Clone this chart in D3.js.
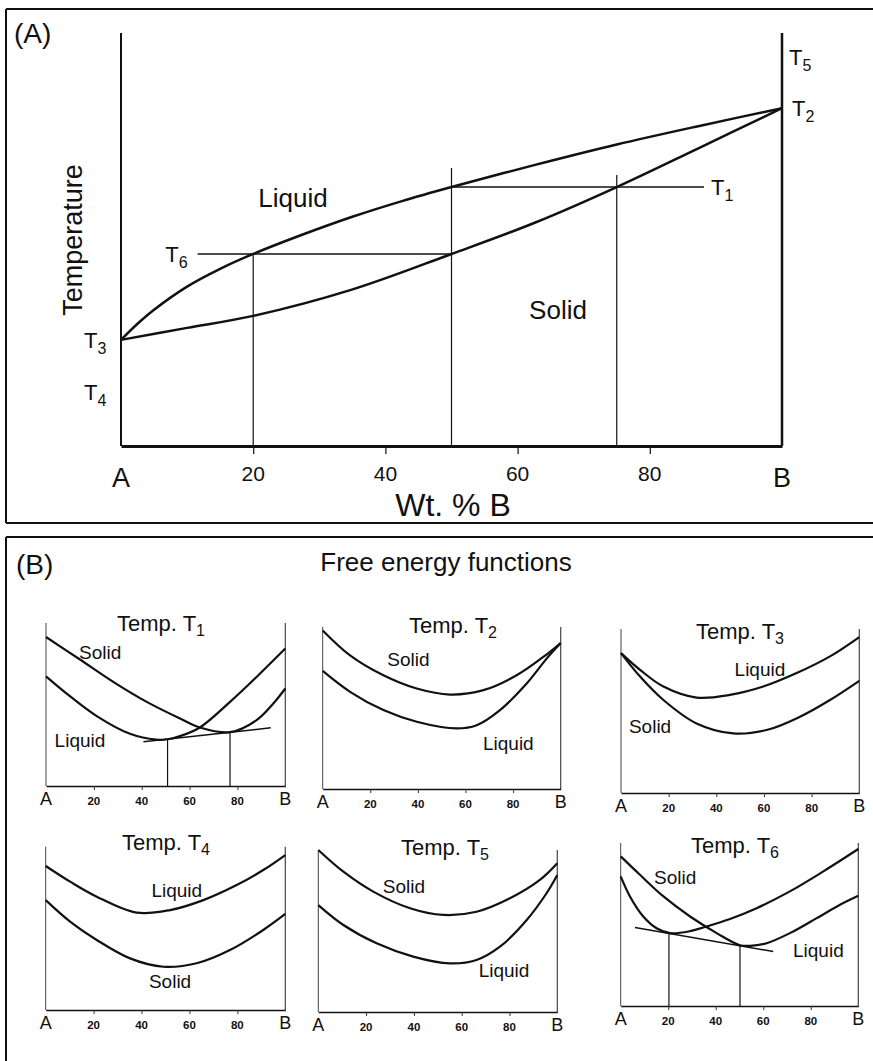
<!DOCTYPE html>
<html><head><meta charset="utf-8">
<script src="https://cdn.jsdelivr.net/npm/d3@7"></script>
<style>
body{margin:0;background:#fff}
svg{display:block}
text{font-family:"Liberation Sans",Arial,Helvetica,sans-serif;fill:#111}
</style>
</head><body>
<svg id="c" width="873" height="1061"></svg>
<script>
// ---------- DATA ----------
const compTicks = [0, 20, 40, 60, 80, 100];
const compLabels = ["A", "20", "40", "60", "80", "B"];

// Panel A: phase diagram (composition wt% B, temperature in arbitrary units 0-100)
const liquidus = [[0,25.7],[2.5,29.6],[5,33.0],[10,38.6],[15,42.9],[20,46.5],[27.5,51.2],[35,55.5],[42.5,59.3],[50,62.7],[62.5,68.0],[75,73.0],[87.5,77.5],[100,81.8]];
const solidus  = [[0,25.7],[10,28.6],[20,31.5],[34.8,37.8],[50,46.5],[62.5,54.0],[75,62.7],[87.5,72.2],[100,81.8]];
const tempNames  = ["5","2","1","6","3","4"];
const tempValues = [94.2, 81.8, 62.7, 46.5, 25.7, 13.1];
const tieT1 = [[50,62.7],[88.2,62.7]];
const tieT6 = [[11.6,46.5],[50,46.5]];
const dropComps = [20, 50, 75];
const dropTops  = [46.5, 67.3, 65.6];

// Panel B: free energy curves (composition %, G arbitrary 0-100)
const t1Solid  = [[0,91.4],[14.2,77.6],[28.1,63.9],[42.1,51.6],[56,41.4],[64.3,35.9],[76.9,33.0],[88,40.4],[95,50.6],[100,59.8]];
const t1Liquid = [[0,67.3],[10,55.1],[21.2,42.9],[35.1,32.0],[46,28.4],[50.8,28.7],[56,30.6],[64.3,35.9],[76.9,51.6],[88,66.9],[100,84.3]];
const t1Tangent = [[40.7,27.1],[93.9,35.7]];
const t1Drops = [[50.8,28.6],[76.9,32.9]];

const t2Solid  = [[0,97.9],[11.5,82.5],[25.5,70.2],[39.5,62.0],[53.5,58.3],[67.5,61.0],[81.5,70.2],[92.7,81.5],[100,90.1]];
const t2Liquid = [[0,72.9],[11.5,60.0],[25.5,48.7],[39.5,41.5],[56.3,37.4],[64.7,39.4],[74.5,48.7],[85.7,65.1],[94.1,80.5],[100,90.1]];

const t3Liquid = [[0,85.3],[8,75.1],[17.8,64.9],[31.7,58.2],[45.7,59.8],[59.7,64.9],[73.7,73.1],[87.7,83.3],[100,95.1]];
const t3Solid  = [[0,85.3],[8,71.0],[17.8,56.7],[31.7,42.4],[47.1,36.3],[61.1,38.4],[75.1,46.5],[87.7,56.7],[100,68.4]];

const t4Liquid = [[0,88.2],[10.2,78.6],[21.3,69.4],[38,59.6],[51.9,61.2],[65.8,67.3],[79.7,76.5],[90.8,85.7],[100,94.9]];
const t4Solid  = [[0,67.3],[10.2,54.1],[21.3,42.9],[35.2,31.6],[49.1,26.5],[63,28.6],[76.9,36.7],[90.8,49.0],[100,58.8]];

const t5Solid  = [[0,100],[10.5,86.6],[23,74.3],[38.4,64.0],[52.3,59.9],[66.2,61.9],[80.2,70.2],[92.7,81.5],[100,91.8]];
const t5Liquid = [[0,66.0],[10.5,53.7],[24.4,42.4],[39.7,34.2],[55.1,30.0],[66.2,32.1],[76,40.3],[87.2,56.8],[95.5,73.3],[100,84.6]];

const t6Solid  = [[0,91.8],[8.1,80.5],[18,67.2],[29.2,54.9],[40.4,44.7],[50.2,37.3],[54.4,36.9],[61.4,38.5],[71.2,44.7],[82.5,53.9],[92.3,62.1],[100,67.6]];
const t6Liquid = [[0,79.5],[3.9,67.2],[9.5,54.9],[15.1,47.7],[20.8,44.7],[29.2,45.9],[34.8,48.2],[46,53.4],[57.2,60.0],[71.2,70.3],[85.3,82.6],[100,96.3]];
const t6Tangent = [[6.0,48.2],[64.2,33.4]];
const t6Drops = [[20.3,44.6],[50.2,37.0]];

// label anchors in data units [x%, G]
const t1Labels = [["Solid",22.6,82],["Liquid",14.2,28]];
const t2Labels = [["Solid",36,80],["Liquid",78,28]];
const t3Labels = [["Liquid",58.3,75.1],["Solid",12.2,40.8]];
const t4Labels = [["Liquid",54.7,73],["Solid",51.9,17.3]];
const t5Labels = [["Solid",35.8,77.4],["Liquid",77.7,25.5]];
const t6Labels = [["Solid",22.9,79.1],["Liquid",83.2,34.4]];

// ---------- DRAW ----------
const svg = d3.select("#c");
const ink = "#111";

function ln(x1,y1,x2,y2,w,c){
  svg.append("line").attr("x1",x1).attr("y1",y1).attr("x2",x2).attr("y2",y2)
    .attr("stroke",c||ink).attr("stroke-width",w);
}
// frames
ln(6,9,873,9,2); ln(6,9,6,523,2); ln(6,523,873,523,2);
ln(6,537,873,537,2); ln(6,537,6,1061,2);

function tLabel(g,x,y,anchor,main,sub,fs,sfs,dy){
  const t = g.append("text").attr("x",x).attr("y",y).attr("text-anchor",anchor).style("font-size",fs+"px");
  t.append("tspan").text(main);
  t.append("tspan").attr("dy",dy).style("font-size",sfs+"px").text(sub);
  return t;
}

// ----- Panel A -----
const gA = svg.append("g");
gA.append("text").attr("x",14).attr("y",43).style("font-size","28px").text("(A)");
const x = d3.scaleLinear().domain([0,100]).range([121,782]);
const y = d3.scaleLinear().domain([0,100]).range([446,33]);

gA.append("line").attr("x1",x(0)).attr("x2",x(0)).attr("y1",y(100)).attr("y2",y(0)).attr("stroke",ink).attr("stroke-width",2);
gA.append("line").attr("x1",x(100)).attr("x2",x(100)).attr("y1",y(100)).attr("y2",y(0)).attr("stroke",ink).attr("stroke-width",2.5);

const axA = gA.append("g").attr("transform",`translate(0,${y(0)})`)
  .call(d3.axisBottom(x).tickValues(compTicks.slice(1,-1)).tickSizeInner(8).tickSizeOuter(0).tickFormat(""));
axA.select(".domain").attr("stroke",ink).attr("stroke-width",3);
axA.selectAll(".tick line").attr("stroke",ink).attr("stroke-width",1.2);

gA.selectAll("text.xl").data(compTicks).enter().append("text").attr("class","xl")
  .attr("x",d=>x(d)).attr("y",(d,i)=> (i===0||i===5)?487:481)
  .attr("text-anchor","middle")
  .style("font-size",(d,i)=> (i===0||i===5)?"27px":"21px")
  .text((d,i)=>compLabels[i]);
gA.append("text").attr("x",453).attr("y",516).attr("text-anchor","middle").style("font-size","32px").text("Wt. % B");
gA.append("text").attr("transform","translate(82,240) rotate(-90)").attr("text-anchor","middle").style("font-size","27px").text("Temperature");

// drop lines and tie lines
dropComps.forEach((c,i)=>{
  gA.append("line").attr("x1",x(c)).attr("x2",x(c)).attr("y1",y(dropTops[i])).attr("y2",y(0)).attr("stroke",ink).attr("stroke-width",1.2);
});
const lineA = d3.line().x(d=>x(d[0])).y(d=>y(d[1]));
gA.append("path").attr("d",lineA(tieT1)).attr("fill","none").attr("stroke",ink).attr("stroke-width",1.5);
gA.append("path").attr("d",lineA(tieT6)).attr("fill","none").attr("stroke",ink).attr("stroke-width",1.5);

const curveA = d3.line().x(d=>x(d[0])).y(d=>y(d[1])).curve(d3.curveCatmullRom.alpha(0.5));
gA.append("path").attr("d",curveA(liquidus)).attr("fill","none").attr("stroke",ink).attr("stroke-width",2.5);
gA.append("path").attr("d",curveA(solidus)).attr("fill","none").attr("stroke",ink).attr("stroke-width",2.5);

gA.append("text").attr("x",293).attr("y",207).attr("text-anchor","middle").style("font-size","26px").text("Liquid");
gA.append("text").attr("x",558).attr("y",319).attr("text-anchor","middle").style("font-size","26px").text("Solid");

// temperature labels
const tPlace = [
  {x:x(100)+7, a:"start"},   // T5
  {x:x(100)+10, a:"start"},  // T2
  {x:x(88.2)+7, a:"start"},  // T1
  {x:x(11.6)-10, a:"end"},   // T6
  {x:84, a:"start"},         // T3
  {x:84, a:"start"}          // T4
];
tempNames.forEach((n,i)=>{
  tLabel(gA, tPlace[i].x, y(tempValues[i])+8, tPlace[i].a, "T", n, 22, 16, 6);
});

// ----- Panel B -----
const gB = svg.append("g");
gB.append("text").attr("x",16).attr("y",574).style("font-size","28px").text("(B)");
gB.append("text").attr("x",446).attr("y",571).attr("text-anchor","middle").style("font-size","26px").text("Free energy functions");

const panels = [
  {sub:"1", box:[46,285.3,623,786], tx:161, ty:631, curves:[t1Solid,t1Liquid], tangent:t1Tangent, drops:t1Drops, labels:t1Labels},
  {sub:"2", box:[322.7,560.7,627,789], tx:453, ty:633, curves:[t2Solid,t2Liquid], labels:t2Labels},
  {sub:"3", box:[621,859.3,629,793], tx:740, ty:639, curves:[t3Liquid,t3Solid], labels:t3Labels},
  {sub:"4", box:[45.7,285.3,846.7,1010], tx:166, ty:850, curves:[t4Liquid,t4Solid], labels:t4Labels},
  {sub:"5", box:[318.3,557.3,850,1012], tx:445, ty:855, curves:[t5Solid,t5Liquid], labels:t5Labels},
  {sub:"6", box:[620.7,858.3,843,1006], tx:735, ty:853, curves:[t6Solid,t6Liquid], tangent:t6Tangent, drops:t6Drops, labels:t6Labels}
];

panels.forEach(p=>{
  const [l,r,t,b] = p.box;
  const g = gB.append("g");
  const px = d3.scaleLinear().domain([0,100]).range([l,r]);
  const py = d3.scaleLinear().domain([0,100]).range([b,t]);
  g.append("line").attr("x1",l).attr("x2",l).attr("y1",t).attr("y2",b).attr("stroke","#444").attr("stroke-width",1);
  g.append("line").attr("x1",r).attr("x2",r).attr("y1",t).attr("y2",b).attr("stroke","#444").attr("stroke-width",1.2);
  const ax = g.append("g").attr("transform",`translate(0,${b})`)
    .call(d3.axisBottom(px).tickValues(compTicks.slice(1,-1)).tickSizeInner(4).tickSizeOuter(0).tickFormat(""));
  ax.select(".domain").attr("stroke",ink).attr("stroke-width",1.6);
  ax.selectAll(".tick line").attr("stroke","#333").attr("stroke-width",1);
  g.selectAll("text.tk").data(compTicks).enter().append("text").attr("class","tk")
    .attr("x",d=>px(d)).attr("y",b+19).attr("text-anchor","middle")
    .style("font-size",(d,i)=>(i===0||i===5)?"18px":"11.5px")
    .style("font-weight",(d,i)=>(i===0||i===5)?"normal":"bold")
    .text((d,i)=>compLabels[i]);
  const tt = g.append("text").attr("x",p.tx).attr("y",p.ty).attr("text-anchor","middle").style("font-size","22px");
  tt.append("tspan").text("Temp. T");
  tt.append("tspan").attr("dy",5).style("font-size","16px").text(p.sub);

  const cl = d3.line().x(d=>px(d[0])).y(d=>py(d[1])).curve(d3.curveCatmullRom.alpha(0.5));
  p.curves.forEach(c=>{
    g.append("path").attr("d",cl(c)).attr("fill","none").attr("stroke",ink).attr("stroke-width",2.2);
  });
  if(p.tangent){
    g.append("path").attr("d",d3.line().x(d=>px(d[0])).y(d=>py(d[1]))(p.tangent)).attr("fill","none").attr("stroke",ink).attr("stroke-width",1.5);
  }
  if(p.drops){
    p.drops.forEach(d=>{
      g.append("line").attr("x1",px(d[0])).attr("x2",px(d[0])).attr("y1",py(d[1])).attr("y2",b).attr("stroke",ink).attr("stroke-width",1.2);
    });
  }
  p.labels.forEach(lb=>{
    g.append("text").attr("x",px(lb[1])).attr("y",py(lb[2])).attr("dy","0.35em").attr("text-anchor","middle").style("font-size","19px").text(lb[0]);
  });
});
</script>
</body></html>
